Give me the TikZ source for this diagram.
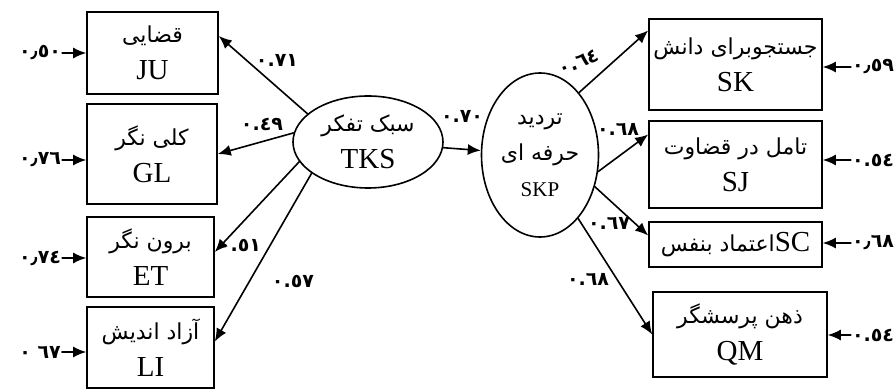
\documentclass[tikz,border=0pt]{standalone}
\usepackage{fontspec}
\setmainfont{Liberation Serif}
\newfontfamily\arabicfont[Script=Arabic]{DejaVu Sans}
\newfontfamily\digitfont{DejaVu Sans}
\TeXXeTstate=1
\usetikzlibrary{shapes.geometric,arrows.meta}
\newcommand{\fa}[1]{{\arabicfont\fontsize{22}{26}\selectfont\beginR #1\endR}}
\newcommand{\coef}[1]{{\digitfont\bfseries #1}}

\begin{document}
\begin{tikzpicture}[x=1pt,y=-1pt,>={Latex[length=13pt,width=11pt]},line cap=round,
		box/.style={draw,line width=1.6pt,align=center,inner sep=0pt,font=\fontsize{29}{37}\selectfont},
		latent/.style={draw,ellipse,line width=1.6pt,align=center,inner sep=0pt},
		link/.style={line width=1.6pt,->},
		lbl/.style={inner sep=1pt,font=\fontsize{19}{19}\selectfont}]
		\useasboundingbox (0,0) rectangle (894,390);
		% observed variables
		\foreach \N/\X/\Y/\W/\H/\A/\L in {ju/152.5/53/131/82/قضایی/JU,
			gl/152/154/130/100/کلی نگر/GL,et/150.5/257/127/80/برون نگر/ET,
			li/150.5/347.5/127/81/آزاد اندیش/LI,sk/735.5/64.5/173/91/جستجوبرای دانش/SK,
			sj/735.5/164.5/173/87/تامل در قضاوت/SJ,qm/740/334.5/174/85/ذهن پرسشگر/QM}
		{\node[box,minimum width=\W,minimum height=\H] (\N) at (\X,\Y) {\fa{\A}\\\L};}
		\node[box,minimum width=173,minimum height=45] (sc) at (735.5,244.5) {\fa{اعتماد بنفس}SC};
		% latent variables
		\node[latent,minimum width=150,minimum height=92,font=\fontsize{29}{37}\selectfont] (tks) at (368,142) {\fa{سبک تفکر}\\TKS};
		\node[latent,minimum width=117,minimum height=164,font=\fontsize{21}{36}\selectfont] (skp) at (540,155) {\fa{تردید}\\\fa{حرفه ای}\\SKP};
		\draw[link] (tks) -- (skp);
		\foreach \B/\A/\S in {ju/155/17,gl/173/0,et/196/5,li/209/6}
		{\draw[link] (tks.\A) -- ([yshift=\S pt]\B.east);}
		\foreach \B/\A/\S in {sk/58/34,sj/344/30,sc/330/9,qm/301/0}
		{\draw[link] (skp.\A) -- ([yshift=\S pt]\B.west);}
		% loadings
		\foreach \N/\X/\Y/\T in {lju/277/60/٠.٧١,lgl/262/124/٠.٤٩,let/240/245/٠.٥١,
			lli/293/281/٠.٥٧,lskp/462/116/٠.٧٠,lsj/618/129/٠.٦٨,lsc/609/223/٠.٦٧,lqm/588/279/٠.٦٨}
		{\node[lbl] (\N) at (\X,\Y) {\coef{\T}};}
		\node[lbl,rotate=22] (lsk) at (579,62) {\coef{٠.٦٤}};
		% errors
		\foreach \B/\Y/\T in {ju/53/٠٫٥٠,gl/160/٠٫٧٦,et/258/٠٫٧٤,li/352/٠ ٦٧}
		{\node[lbl] (e\B) at (40,\Y) {\coef{\T}};
			\draw[link] (e\B) -- (e\B -| \B.west);}
		\foreach \B/\Y/\T in {sk/67/٠٫٥٩,sj/160/٠.٥٤,sc/243/٠٫٦٨,qm/335/٠.٥٤}
		{\node[lbl] (e\B) at (873,\Y) {\coef{\T}};
			\draw[link] (e\B) -- (e\B -| \B.east);}
\end{tikzpicture}
\end{document}
